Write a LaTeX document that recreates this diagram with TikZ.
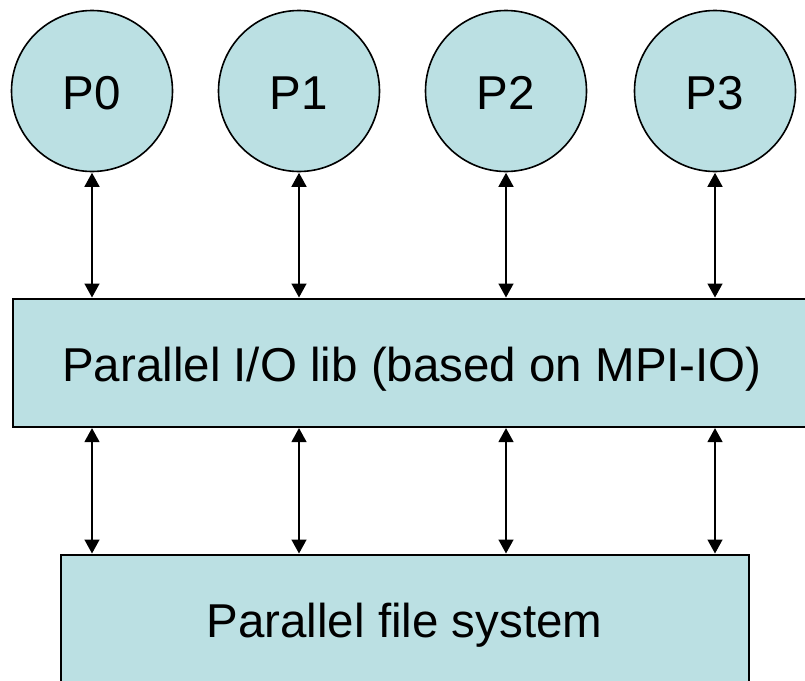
\documentclass[tikz,border=0pt]{standalone}
\usepackage{fontspec}
\setmainfont{Liberation Sans}
\usetikzlibrary{arrows.meta}
\definecolor{boxfill}{RGB}{187,224,227}
\begin{document}
\begin{tikzpicture}[x=1pt,y=-1pt,
  big/.style={font=\fontsize{47.5}{56}\selectfont},
  proc/.style={circle,draw=black,line width=1.6pt,fill=boxfill,minimum size=161pt,inner sep=0pt},
  plabel/.style={big,anchor=base},
  layer/.style={rectangle,draw=black,line width=1.6pt,fill=boxfill,inner sep=0pt},
  link/.style={line width=1.5pt,{Triangle[width=15pt,length=14pt]}-{Triangle[width=15pt,length=14pt]},shorten <=0.5pt,shorten >=0.5pt}]
\useasboundingbox (0,0) rectangle (805,680);
\clip (0,0) rectangle (805,680);
\node[proc] (p0) at (92,91) {};
\node[proc] (p1) at (299,91) {};
\node[proc] (p2) at (506,91) {};
\node[proc] (p3) at (715,91) {};
\node[plabel] (t0) at (92,109) {P0};
\node[plabel] (t1) at (299,109) {P1};
\node[plabel] (t2) at (506,109) {P2};
\node[plabel] (t3) at (715,109) {P3};
\node[layer,minimum width=806pt,minimum height=128pt,anchor=north west] (lib) at (12,298) {};
\node[big,anchor=base] (libtxt) at (412,381) {Parallel I/O lib (based on MPI-IO)};
\node[layer,minimum width=688pt,minimum height=160pt,anchor=north west] (fs) at (60,554) {};
\node[big,anchor=base] (fstxt) at (404.5,637) {Parallel file system};
\foreach \p in {p0,p1,p2,p3}{
  \draw[link] (\p.south) -- (\p |- lib.north);
  \draw[link] (\p |- lib.south) -- (\p |- fs.north);
}
\end{tikzpicture}
\end{document}
